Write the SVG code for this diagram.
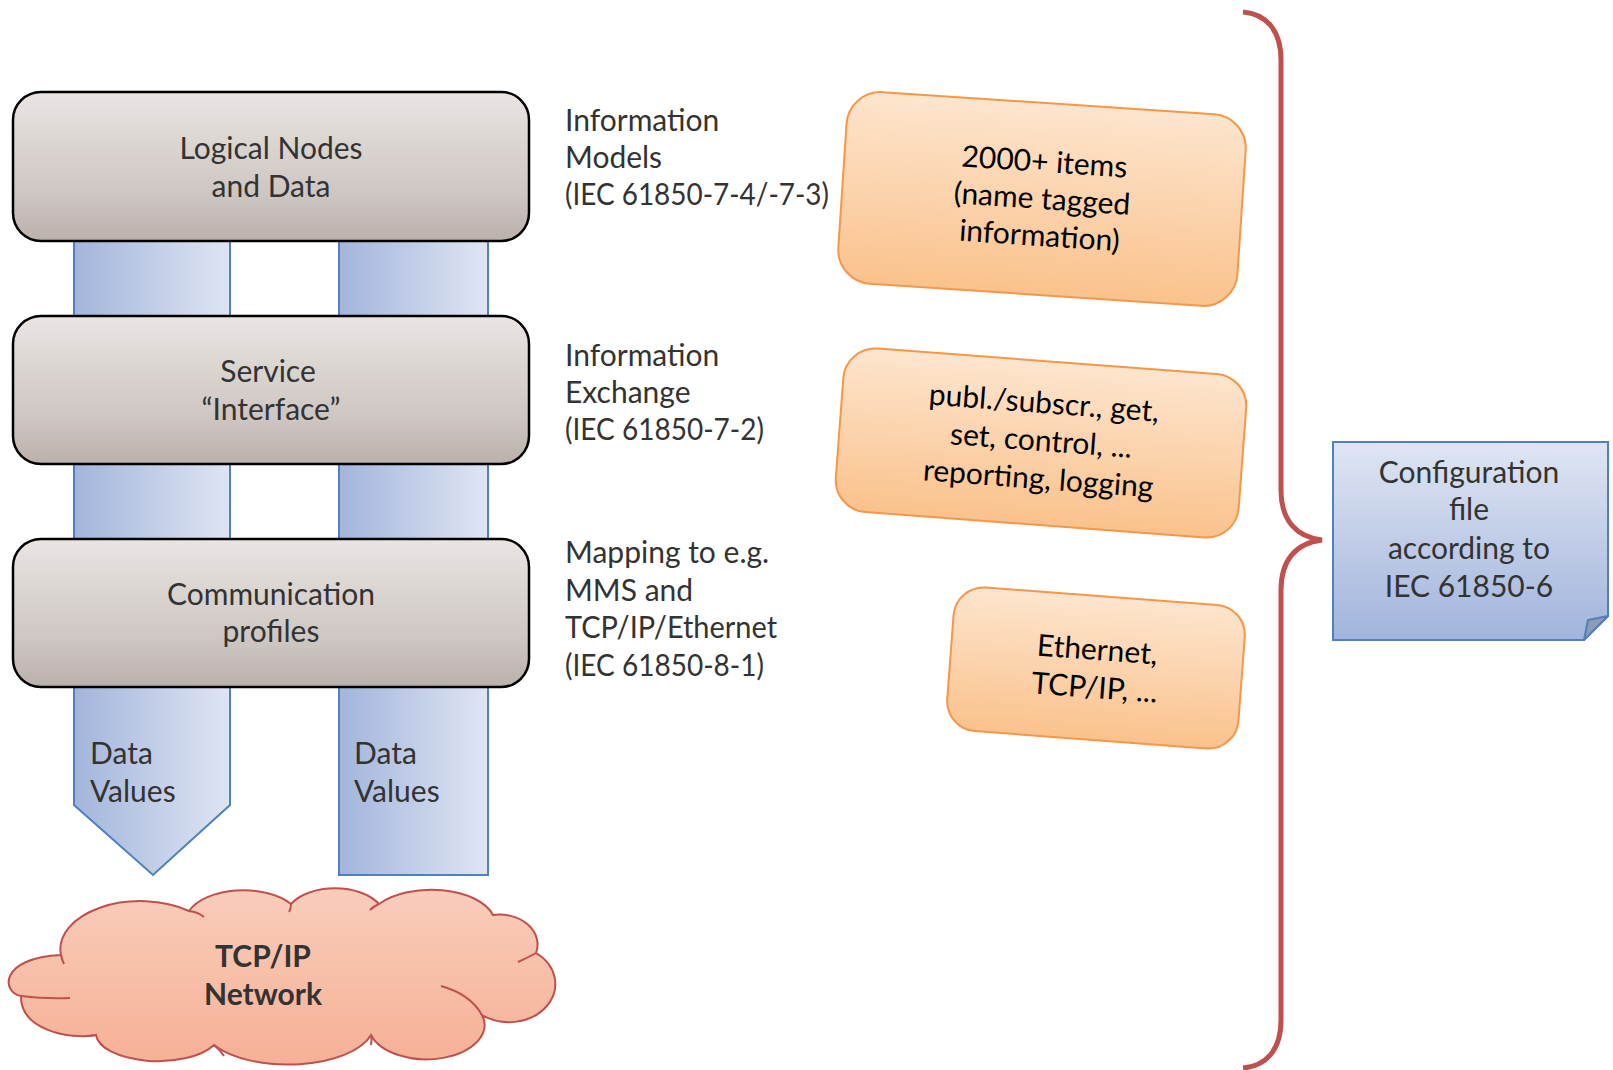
<svg xmlns="http://www.w3.org/2000/svg" width="1613" height="1070" viewBox="0 0 1613 1070">
<defs>
<linearGradient id="gGray" x1="0" y1="0" x2="0" y2="1">
<stop offset="0" stop-color="#e9e5e2"/><stop offset="0.7" stop-color="#cdc5c2"/><stop offset="1" stop-color="#bab0ac"/>
</linearGradient>
<linearGradient id="gBar" x1="0" y1="0" x2="1" y2="0">
<stop offset="0" stop-color="#a3b5dc"/><stop offset="1" stop-color="#dfe5f3"/>
</linearGradient>
<linearGradient id="gOrange" x1="0" y1="0" x2="0" y2="1">
<stop offset="0" stop-color="#fde5ce"/><stop offset="1" stop-color="#fac28c"/>
</linearGradient>
<linearGradient id="gNote" x1="0" y1="0" x2="0" y2="1">
<stop offset="0" stop-color="#dfe5f3"/><stop offset="1" stop-color="#a2b4dc"/>
</linearGradient>
<linearGradient id="gCloud" x1="0" y1="0" x2="0" y2="1">
<stop offset="0" stop-color="#f9cdbb"/><stop offset="1" stop-color="#f6b095"/>
</linearGradient>
<style>
.layer{fill:url(#gGray);stroke:#000;stroke-width:2.5}
.bar{fill:url(#gBar);stroke:#4f81bd;stroke-width:2}
.orange{fill:url(#gOrange);stroke:#f79646;stroke-width:2}
.t{font-family:Lato,"Liberation Sans",sans-serif;font-size:30px;fill:#333333}
.c{text-anchor:middle}
.o{font-family:Lato,"Liberation Sans",sans-serif;font-size:30px;fill:#000;text-anchor:middle}
.b{font-weight:bold}
</style>
</defs>
<rect width="1613" height="1070" fill="#ffffff"/>

<g id="connectors">
<path id="bar-left" class="bar" d="M74,150 L230,150 L230,805 L153,875 L74,805 Z"/>
<path id="bar-right" class="bar" d="M339,150 L488,150 L488,875 L339,875 Z"/>
<path id="brace" d="M1243,12 C1266,14 1281,30 1281,60 L1281,490 C1281,520 1296,537 1322,540 C1296,543 1281,560 1281,590 L1281,1020 C1281,1050 1266,1066 1243,1068" fill="none" stroke="#c0504d" stroke-width="5"/>
</g>

<g id="node-logical">
<rect class="layer" x="13" y="92" width="516" height="149" rx="28"/>
<text class="t c" x="271" y="159">Logical Nodes</text>
<text class="t c" x="271" y="197">and Data</text>
</g>
<g id="node-service">
<rect class="layer" x="13" y="316" width="516" height="148" rx="28"/>
<text class="t c" x="268" y="382">Service</text>
<text class="t c" x="271" y="420">“Interface”</text>
</g>
<g id="node-comm">
<rect class="layer" x="13" y="539" width="516" height="148" rx="28"/>
<text class="t c" x="271" y="605">Communication</text>
<text class="t c" x="271" y="642">profiles</text>
</g>

<g id="label-values-left">
<text class="t" x="90" y="764">Data</text>
<text class="t" x="90" y="802">Values</text>
</g>
<g id="label-values-right">
<text class="t" x="354" y="764">Data</text>
<text class="t" x="354" y="802">Values</text>
</g>

<g id="node-network">
<path d="M61,955 A80,48 0 0 1 189,911 A58,32 0 0 1 291,904 A50,30 0 0 1 379,904 A64,34 0 0 1 493,915 A38,30 0 0 1 536,953 A34,28 0 0 1 482,1015 A54,32 0 0 1 371,1035 A86,40 0 0 1 214,1045 A62,28 0 0 1 96,1035 C70,1040 20,1030 21,996 C2,993 -2,958 61,955 Z" fill="url(#gCloud)" stroke="#c0504d" stroke-width="2"/>
<g fill="none" stroke="#c0504d" stroke-width="2">
<path d="M189,911 Q198,912 204,917"/>
<path d="M291,904 Q291,909 289,912"/>
<path d="M379,904 Q374,906 370,910"/>
<path d="M536,953 Q527,958 518,962"/>
<path d="M441,986 Q470,994 482,1015"/>
<path d="M371,1035 Q372,1040 371,1045"/>
<path d="M214,1045 Q220,1050 224,1056"/>
<path d="M96,1035 Q91,1036 86,1036"/>
<path d="M21,996 Q45,999 70,998"/>
<path d="M61,955 Q62,960 64,964"/>
</g>
<text class="t c b" x="263" y="967">TCP/IP</text>
<text class="t c b" x="263" y="1005">Network</text>
</g>

<g id="label-models">
<text class="t" x="565" y="131">Information</text>
<text class="t" x="565" y="168">Models</text>
<text class="t" x="565" y="205" textLength="264" lengthAdjust="spacingAndGlyphs">(IEC 61850-7-4/-7-3)</text>
</g>
<g id="label-exchange">
<text class="t" x="565" y="366">Information</text>
<text class="t" x="565" y="403">Exchange</text>
<text class="t" x="565" y="440" textLength="199" lengthAdjust="spacingAndGlyphs">(IEC 61850-7-2)</text>
</g>
<g id="label-mapping">
<text class="t" x="565" y="563">Mapping to e.g.</text>
<text class="t" x="565" y="601">MMS and</text>
<text class="t" x="565" y="638" textLength="212" lengthAdjust="spacingAndGlyphs">TCP/IP/Ethernet</text>
<text class="t" x="565" y="676" textLength="199" lengthAdjust="spacingAndGlyphs">(IEC 61850-8-1)</text>
</g>

<g id="node-items" transform="translate(1042,199) rotate(3.8)">
<rect class="orange" x="-200" y="-96" width="400" height="192" rx="34"/>
<text class="o" x="0" y="-27">2000+ items</text>
<text class="o" x="0" y="10">(name tagged</text>
<text class="o" x="0" y="47">information)</text>
</g>
<g id="node-services" transform="translate(1041,443) rotate(4.3)">
<rect class="orange" x="-202" y="-82" width="404" height="164" rx="32"/>
<text class="o" x="0" y="-30">publ./subscr., get,</text>
<text class="o" x="0" y="8">set, control, ...</text>
<text class="o" x="0" y="46">reporting, logging</text>
</g>
<g id="node-ethernet" transform="translate(1096,668) rotate(4.3)">
<rect class="orange" x="-146" y="-72" width="292" height="144" rx="30"/>
<text class="o" x="0" y="-8">Ethernet,</text>
<text class="o" x="0" y="30">TCP/IP, ...</text>
</g>

<g id="node-config">
<path d="M1333,442 L1608,442 L1608,616 L1584,640 L1333,640 Z" fill="url(#gNote)" stroke="#4f81bd" stroke-width="2"/>
<path d="M1584,640 L1588,620 L1608,616 Z" fill="#8e9bb7" stroke="#4f81bd" stroke-width="2" stroke-linejoin="round"/>
<text class="t c" x="1469" y="483">Configuration</text>
<text class="t c" x="1469" y="520">file</text>
<text class="t c" x="1469" y="559">according to</text>
<text class="t c" x="1469" y="597">IEC 61850-6</text>
</g>
</svg>
